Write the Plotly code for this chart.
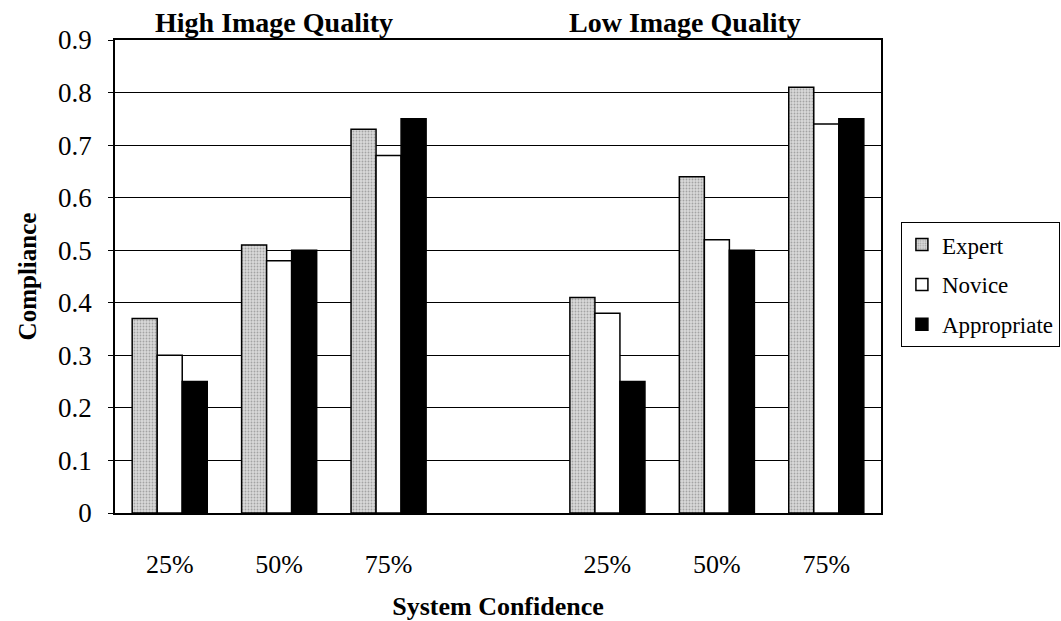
import plotly.graph_objects as go

# Slots along the x axis; the empty slot separates the two image-quality panels
slot_keys = ["H25", "H50", "H75", "gap", "L25", "L50", "L75"]
tick_labels = ["25%", "50%", "75%", "", "25%", "50%", "75%"]
bar_keys = ["H25", "H50", "H75", "L25", "L50", "L75"]

expert = [0.37, 0.51, 0.73, 0.41, 0.64, 0.81]
novice = [0.30, 0.48, 0.68, 0.38, 0.52, 0.74]
appropriate = [0.25, 0.50, 0.75, 0.25, 0.50, 0.75]

panel_titles = ["High Image Quality", "Low Image Quality"]

FONT = "Liberation Serif, Times New Roman, serif"
line = dict(color="black", width=1.5)

fig = go.Figure()
fig.add_trace(go.Bar(
    name="Expert", x=bar_keys, y=expert, legendgroup="e",
    marker=dict(color="#d6d6d6", line=line,
                pattern=dict(shape=".", bgcolor="#d9d9d9", fgcolor="#6e6e6e",
                             size=3, solidity=0.3)),
))
fig.add_trace(go.Bar(
    name="Novice", x=bar_keys, y=novice, legendgroup="n",
    marker=dict(color="white", line=line),
))
fig.add_trace(go.Bar(
    name="Appropriate", x=bar_keys, y=appropriate, legendgroup="a",
    marker=dict(color="black", line=line),
))

fig.update_layout(
    width=1061, height=621,
    margin=dict(l=115, r=180, t=40, b=108, autoexpand=False),
    plot_bgcolor="white", paper_bgcolor="white",
    font=dict(family=FONT, color="black", size=23),
    barmode="group", bargap=0.314, bargroupgap=0,
    showlegend=True,
    legend=dict(
        x=1.026, y=0.615, xanchor="left", yanchor="top",
        bordercolor="black", borderwidth=1, bgcolor="white",
        font=dict(family=FONT, size=23), traceorder="grouped",
        tracegroupgap=7, itemwidth=30,
    ),
)

fig.update_xaxes(
    type="category", categoryorder="array", categoryarray=slot_keys,
    tickmode="array", tickvals=slot_keys, ticktext=tick_labels,
    ticks="", showline=True, linecolor="black", linewidth=1.5, mirror=True,
    showgrid=False, ticklabelstandoff=27,
    tickfont=dict(family=FONT, size=26),
    title=dict(text="<b>System Confidence</b>", standoff=28,
               font=dict(family=FONT, size=26)),
)
fig.update_yaxes(
    range=[0, 0.9], dtick=0.1, tickformat="~g",
    showline=True, linecolor="black", linewidth=1.5, mirror=True,
    showgrid=True, gridcolor="black", gridwidth=1,
    ticks="outside", ticklen=5, tickcolor="black", ticklabelstandoff=11,
    tickfont=dict(family=FONT, size=27),
    title=dict(text="<b>Compliance</b>", standoff=14,
               font=dict(family=FONT, size=25)),
    zeroline=False,
)

for text, xpos in zip(panel_titles, [0.2076, 0.744]):
    fig.add_annotation(
        text=f"<b>{text}</b>", xref="paper", yref="paper",
        x=xpos, y=1, xanchor="center", yanchor="bottom", yshift=0,
        showarrow=False, font=dict(family=FONT, size=28),
    )

fig.write_html("out.html")
